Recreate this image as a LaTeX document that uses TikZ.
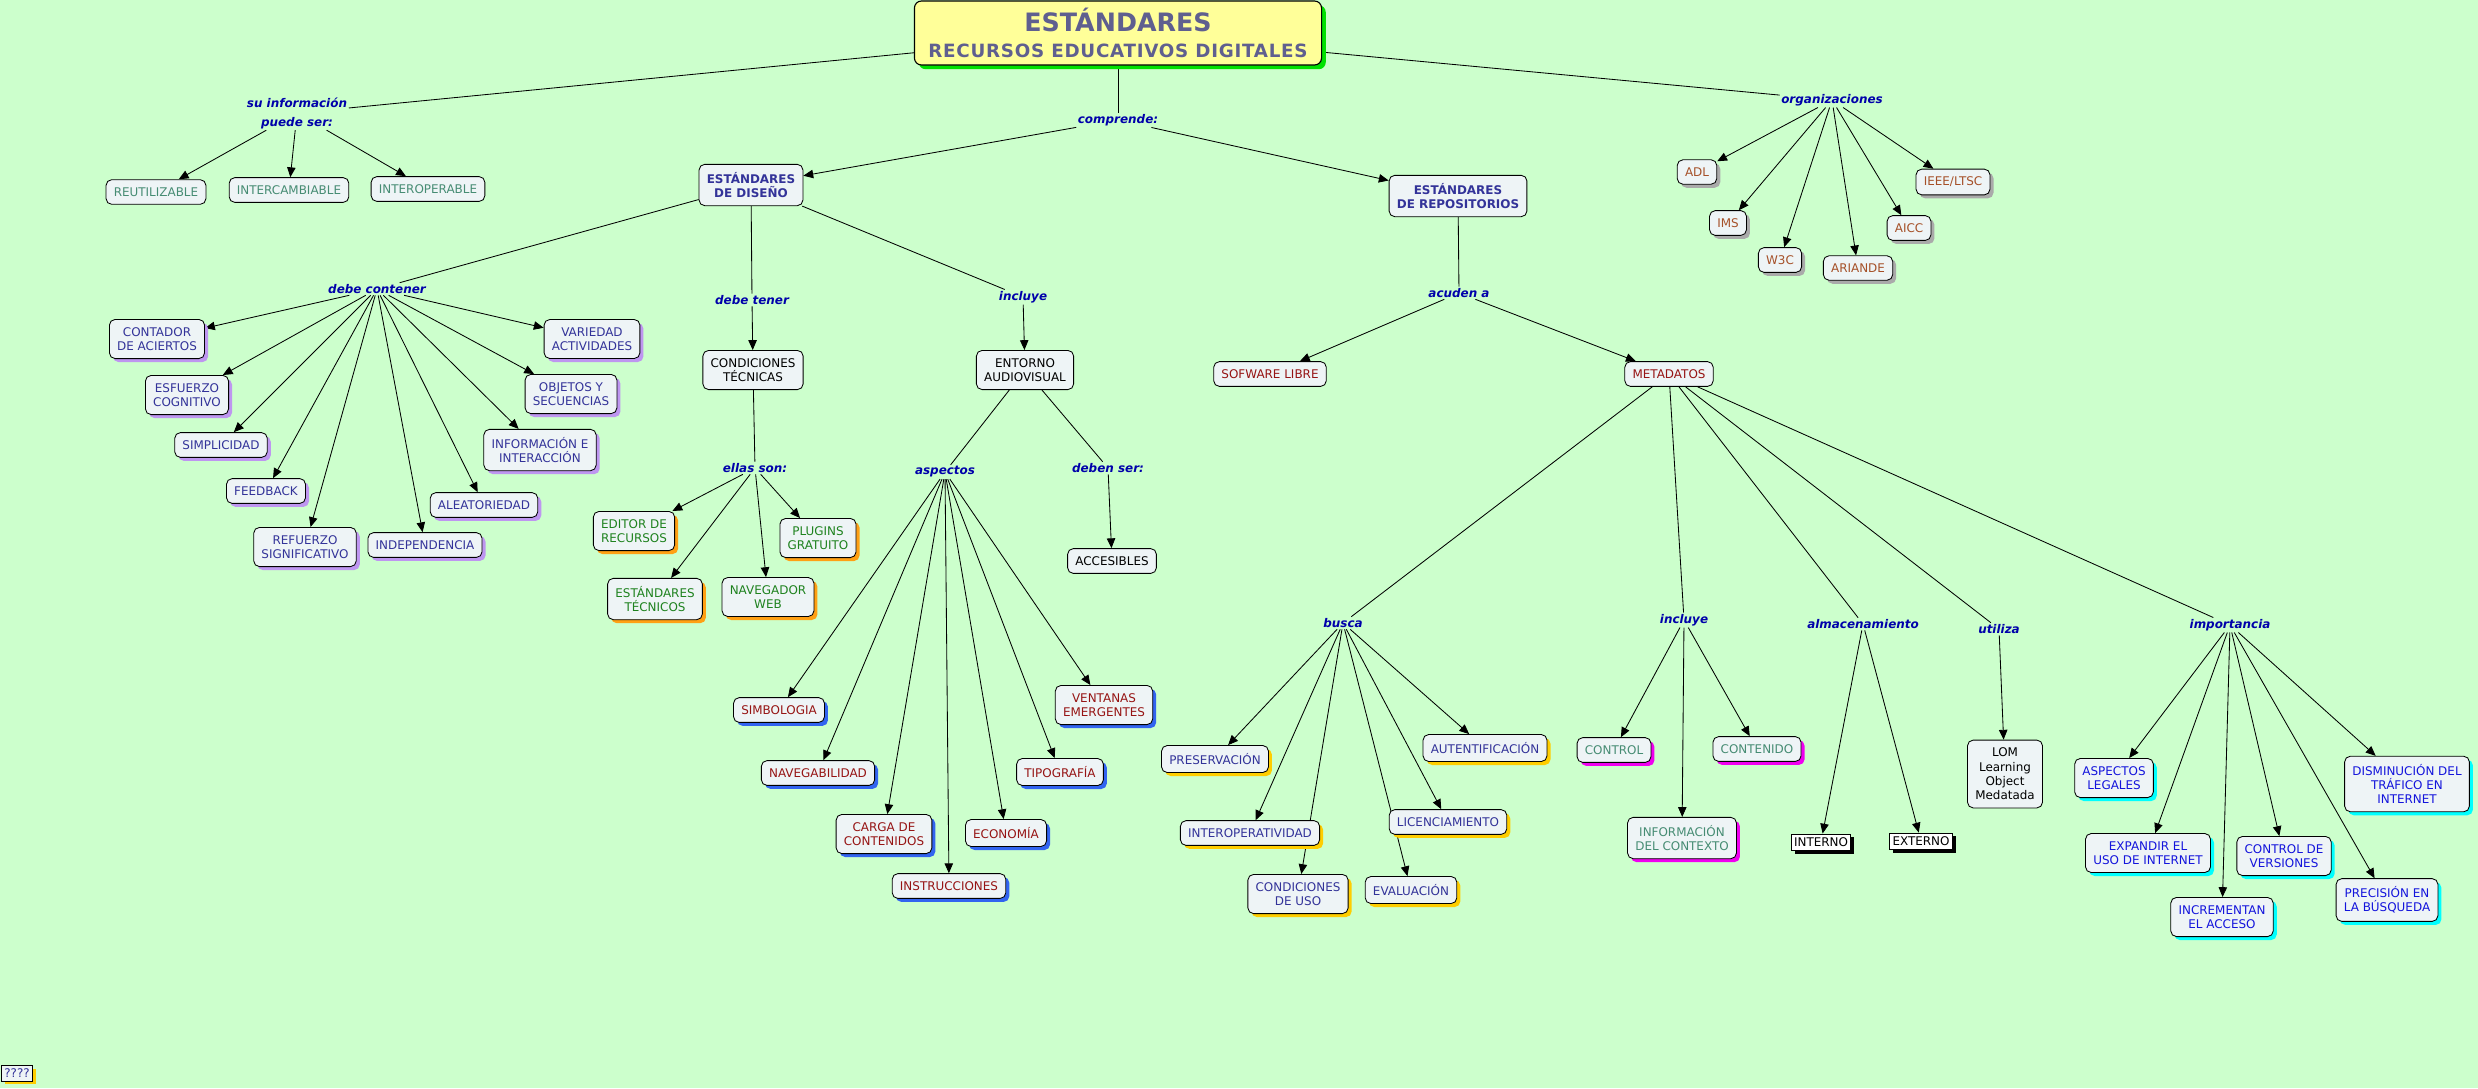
\documentclass[tikz,border=0pt]{standalone}
\usepackage{fontspec}
\setmainfont{DejaVu Sans}
\usetikzlibrary{arrows.meta,shadows}
\pgfdeclarelayer{bg}
\pgfdeclarelayer{links}
\pgfsetlayers{bg,links,main}
\definecolor{bgreen}{RGB}{204,255,204}
\definecolor{boxfill}{RGB}{238,244,246}
\definecolor{linkblue}{RGB}{0,0,170}
\definecolor{titlefill}{RGB}{255,255,153}
\definecolor{titletext}{RGB}{95,95,143}
\definecolor{titlesh}{RGB}{0,225,0}
\definecolor{slatetxt}{RGB}{51,51,153}
\definecolor{tealtxt}{RGB}{70,140,115}
\definecolor{siennatxt}{RGB}{165,80,40}
\definecolor{greentxt}{RGB}{30,130,30}
\definecolor{redtxt}{RGB}{150,20,20}
\definecolor{importtxt}{RGB}{20,20,220}
\definecolor{violetsh}{RGB}{190,150,240}
\definecolor{orangesh}{RGB}{255,160,20}
\definecolor{bluesh}{RGB}{50,100,240}
\definecolor{goldsh}{RGB}{255,205,0}
\definecolor{magentash}{RGB}{240,0,240}
\definecolor{cyansh}{RGB}{0,255,255}
\definecolor{greysh}{RGB}{170,170,170}
\newcommand{\boxfont}{\fontsize{8.5}{10.2}\selectfont}
\newcommand{\linkfont}{\fontsize{8.5}{10.2}\selectfont\bfseries\itshape}
\begin{document}
\begin{tikzpicture}[x=0.025cm,y=-0.025cm,
  cbox/.style={draw,rounded corners=4pt,fill=boxfill,align=center,font=\boxfont,inner xsep=5.5pt,inner ysep=5.6pt,line width=0.6pt},
  sqbox/.style={cbox,rounded corners=0pt,fill=white,inner xsep=2pt,inner ysep=2.5pt},
  shad/.style={drop shadow={shadow xshift=2.5pt,shadow yshift=-2.5pt,fill=#1,opacity=1}},
  lnk/.style={font=\linkfont,text=linkblue,inner sep=1pt,align=center},
  con/.style={line width=0.6pt},
  arr/.style={con,-{Triangle[length=7pt,width=6pt]}}]
\begin{pgfonlayer}{bg}
  \fill[bgreen] (0,0) rectangle (2478,1088);
\end{pgfonlayer}
\useasboundingbox (0,0) rectangle (2478,1088);

% main concept
\node[draw,rounded corners=5pt,fill=titlefill,line width=0.8pt,align=center,text=titletext,
      minimum width=10.175cm,minimum height=1.6cm,inner sep=2pt,
      drop shadow={shadow xshift=3pt,shadow yshift=-3pt,fill=titlesh,opacity=1},
      font=\fontsize{13}{19}\selectfont\bfseries] (title) at (1118,33)
  {{\fontsize{18}{20}\selectfont ESTÁNDARES}\\{\addfontfeature{LetterSpace=4}RECURSOS EDUCATIVOS DIGITALES}};

% linking phrases
\node[lnk,font=\fontsize{8.5}{13.5}\selectfont\bfseries\itshape] (suinfo) at (297,113) {su información\\puede ser:};
\node[lnk] (comprende) at (1118,120) {comprende:};
\node[lnk] (organiz) at (1832,100) {organizaciones};
\node[lnk] (debecont) at (377,289) {debe contener};
\node[lnk] (debetener) at (752,300) {debe tener};
\node[lnk] (incluyeA) at (1023,297) {incluye};
\node[lnk] (ellas) at (755,468) {ellas son:};
\node[lnk] (aspectos) at (945,472) {aspectos};
\node[lnk] (debenser) at (1108,468) {deben ser:};
\node[lnk] (acuden) at (1459,293) {acuden a};
\node[lnk] (busca) at (1343,623) {busca};
\node[lnk] (incluyeB) at (1684,620) {incluye};
\node[lnk] (almac) at (1863,624) {almacenamiento};
\node[lnk] (utiliza) at (1999,629) {utiliza};
\node[lnk] (importancia) at (2230,625) {importancia};

% concepts
\node[cbox,text=tealtxt] (reut) at (156,192) {REUTILIZABLE};
\node[cbox,text=tealtxt] (inter) at (289,190) {INTERCAMBIABLE};
\node[cbox,text=tealtxt] (interop) at (428,189) {INTEROPERABLE};

\node[cbox,text=siennatxt,shad=greysh] (adl) at (1697,172) {ADL};
\node[cbox,text=siennatxt,shad=greysh] (ims) at (1728,223) {IMS};
\node[cbox,text=siennatxt,shad=greysh] (wtc) at (1780,260) {W3C};
\node[cbox,text=siennatxt,shad=greysh] (ariande) at (1858,268) {ARIANDE};
\node[cbox,text=siennatxt,shad=greysh] (aicc) at (1909,228) {AICC};
\node[cbox,text=siennatxt,shad=greysh] (ieee) at (1953,182) {IEEE/LTSC};

\node[cbox,text=slatetxt,font=\boxfont\bfseries] (diseno) at (751,185) {ESTÁNDARES\\DE DISEÑO};
\node[cbox,text=slatetxt,font=\boxfont\bfseries] (repos) at (1458,196) {ESTÁNDARES\\DE REPOSITORIOS};

\node[cbox,text=slatetxt,shad=violetsh] (contador) at (157,339) {CONTADOR\\DE ACIERTOS};
\node[cbox,text=slatetxt,shad=violetsh] (esfuerzo) at (187,395) {ESFUERZO\\COGNITIVO};
\node[cbox,text=slatetxt,shad=violetsh] (simplicidad) at (221,445) {SIMPLICIDAD};
\node[cbox,text=slatetxt,shad=violetsh] (feedback) at (266,491) {FEEDBACK};
\node[cbox,text=slatetxt,shad=violetsh] (refuerzo) at (305,547) {REFUERZO\\SIGNIFICATIVO};
\node[cbox,text=slatetxt,shad=violetsh] (independencia) at (425,545) {INDEPENDENCIA};
\node[cbox,text=slatetxt,shad=violetsh] (aleatoriedad) at (484,505) {ALEATORIEDAD};
\node[cbox,text=slatetxt,shad=violetsh] (infointer) at (540,450) {INFORMACIÓN E\\INTERACCIÓN};
\node[cbox,text=slatetxt,shad=violetsh] (objetos) at (571,394) {OBJETOS Y\\SECUENCIAS};
\node[cbox,text=slatetxt,shad=violetsh] (variedad) at (592,339) {VARIEDAD\\ACTIVIDADES};

\node[cbox] (condtec) at (753,370) {CONDICIONES\\TÉCNICAS};
\node[cbox] (entorno) at (1025,370) {ENTORNO\\AUDIOVISUAL};
\node[cbox] (accesibles) at (1112,561) {ACCESIBLES};

\node[cbox,text=greentxt,shad=orangesh] (editor) at (634,531) {EDITOR DE\\RECURSOS};
\node[cbox,text=greentxt,shad=orangesh] (esttec) at (655,599) {ESTÁNDARES\\TÉCNICOS};
\node[cbox,text=greentxt,shad=orangesh] (navegador) at (768,597) {NAVEGADOR\\WEB};
\node[cbox,text=greentxt,shad=orangesh] (plugins) at (818,538) {PLUGINS\\GRATUITO};

\node[cbox,text=redtxt,shad=bluesh] (simbologia) at (779,710) {SIMBOLOGIA};
\node[cbox,text=redtxt,shad=bluesh] (navegab) at (818,773) {NAVEGABILIDAD};
\node[cbox,text=redtxt,shad=bluesh] (carga) at (884,834) {CARGA DE\\CONTENIDOS};
\node[cbox,text=redtxt,shad=bluesh] (instrucc) at (949,886) {INSTRUCCIONES};
\node[cbox,text=redtxt,shad=bluesh] (economia) at (1006,833) {ECONOMÍA};
\node[cbox,text=redtxt,shad=bluesh] (tipografia) at (1060,772) {TIPOGRAFÍA};
\node[cbox,text=redtxt,shad=bluesh] (ventanas) at (1104,705) {VENTANAS\\EMERGENTES};

\node[cbox,text=redtxt] (sofware) at (1270,374) {SOFWARE LIBRE};
\node[cbox,text=redtxt] (metadatos) at (1669,374) {METADATOS};

\node[cbox,text=slatetxt,shad=goldsh] (preserv) at (1215,759) {PRESERVACIÓN};
\node[cbox,text=slatetxt,shad=goldsh] (interopv) at (1250,833) {INTEROPERATIVIDAD};
\node[cbox,text=slatetxt,shad=goldsh] (conduso) at (1298,894) {CONDICIONES\\DE USO};
\node[cbox,text=slatetxt,shad=goldsh] (evaluac) at (1411,890) {EVALUACIÓN};
\node[cbox,text=slatetxt,shad=goldsh] (licenc) at (1448,822) {LICENCIAMIENTO};
\node[cbox,text=slatetxt,shad=goldsh] (autent) at (1485,748) {AUTENTIFICACIÓN};

\node[cbox,text=tealtxt,shad=magentash] (control) at (1614,750) {CONTROL};
\node[cbox,text=tealtxt,shad=magentash] (infocont) at (1682,838) {INFORMACIÓN\\DEL CONTEXTO};
\node[cbox,text=tealtxt,shad=magentash] (contenido) at (1757,749) {CONTENIDO};

\node[sqbox,shad=black] (interno) at (1821,842) {INTERNO};
\node[sqbox,shad=black] (externo) at (1921,841) {EXTERNO};
\node[cbox] (lom) at (2005,774) {LOM\\Learning\\Object\\Medatada};

\node[cbox,text=importtxt,shad=cyansh] (aspleg) at (2114,778) {ASPECTOS\\LEGALES};
\node[cbox,text=importtxt,shad=cyansh] (expandir) at (2148,853) {EXPANDIR EL\\USO DE INTERNET};
\node[cbox,text=importtxt,shad=cyansh] (increm) at (2222,917) {INCREMENTAN\\EL ACCESO};
\node[cbox,text=importtxt,shad=cyansh] (controlv) at (2284,856) {CONTROL DE\\VERSIONES};
\node[cbox,text=importtxt,shad=cyansh] (precision) at (2387,900) {PRECISIÓN EN\\LA BÚSQUEDA};
\node[cbox,text=importtxt,shad=cyansh] (disminuc) at (2407,784) {DISMINUCIÓN DEL\\TRÁFICO EN\\INTERNET};

\node[sqbox,text=slatetxt,fill=boxfill,shad=goldsh] (qq) at (17,1073) {????};

% connections
\begin{pgfonlayer}{links}
  \foreach \t in {suinfo,comprende,organiz} \draw[con] (title) -- (\t);
  \foreach \t in {reut,inter,interop} \draw[arr] (suinfo) -- (\t);
  \foreach \t in {adl,ims,wtc,ariande,aicc,ieee} \draw[arr] (organiz) -- (\t);
  \foreach \t in {diseno,repos} \draw[arr] (comprende) -- (\t);
  \foreach \t in {debecont,debetener,incluyeA} \draw[con] (diseno) -- (\t);
  \foreach \t in {contador,esfuerzo,simplicidad,feedback,refuerzo,independencia,aleatoriedad,infointer,objetos,variedad}
    \draw[arr] (debecont) -- (\t);
  \draw[arr] (debetener) -- (condtec);
  \draw[arr] (incluyeA) -- (entorno);
  \draw[con] (condtec) -- (ellas);
  \foreach \t in {editor,esttec,navegador,plugins} \draw[arr] (ellas) -- (\t);
  \foreach \t in {aspectos,debenser} \draw[con] (entorno) -- (\t);
  \draw[arr] (debenser) -- (accesibles);
  \foreach \t in {simbologia,navegab,carga,instrucc,economia,tipografia,ventanas} \draw[arr] (aspectos) -- (\t);
  \draw[con] (repos) -- (acuden);
  \foreach \t in {sofware,metadatos} \draw[arr] (acuden) -- (\t);
  \foreach \t in {busca,incluyeB,almac,utiliza,importancia} \draw[con] (metadatos) -- (\t);
  \foreach \t in {preserv,interopv,conduso,evaluac,licenc,autent} \draw[arr] (busca) -- (\t);
  \foreach \t in {control,infocont,contenido} \draw[arr] (incluyeB) -- (\t);
  \foreach \t in {interno,externo} \draw[arr] (almac) -- (\t);
  \draw[arr] (utiliza) -- (lom);
  \foreach \t in {aspleg,expandir,increm,controlv,precision,disminuc} \draw[arr] (importancia) -- (\t);
\end{pgfonlayer}
\end{tikzpicture}
\end{document}
